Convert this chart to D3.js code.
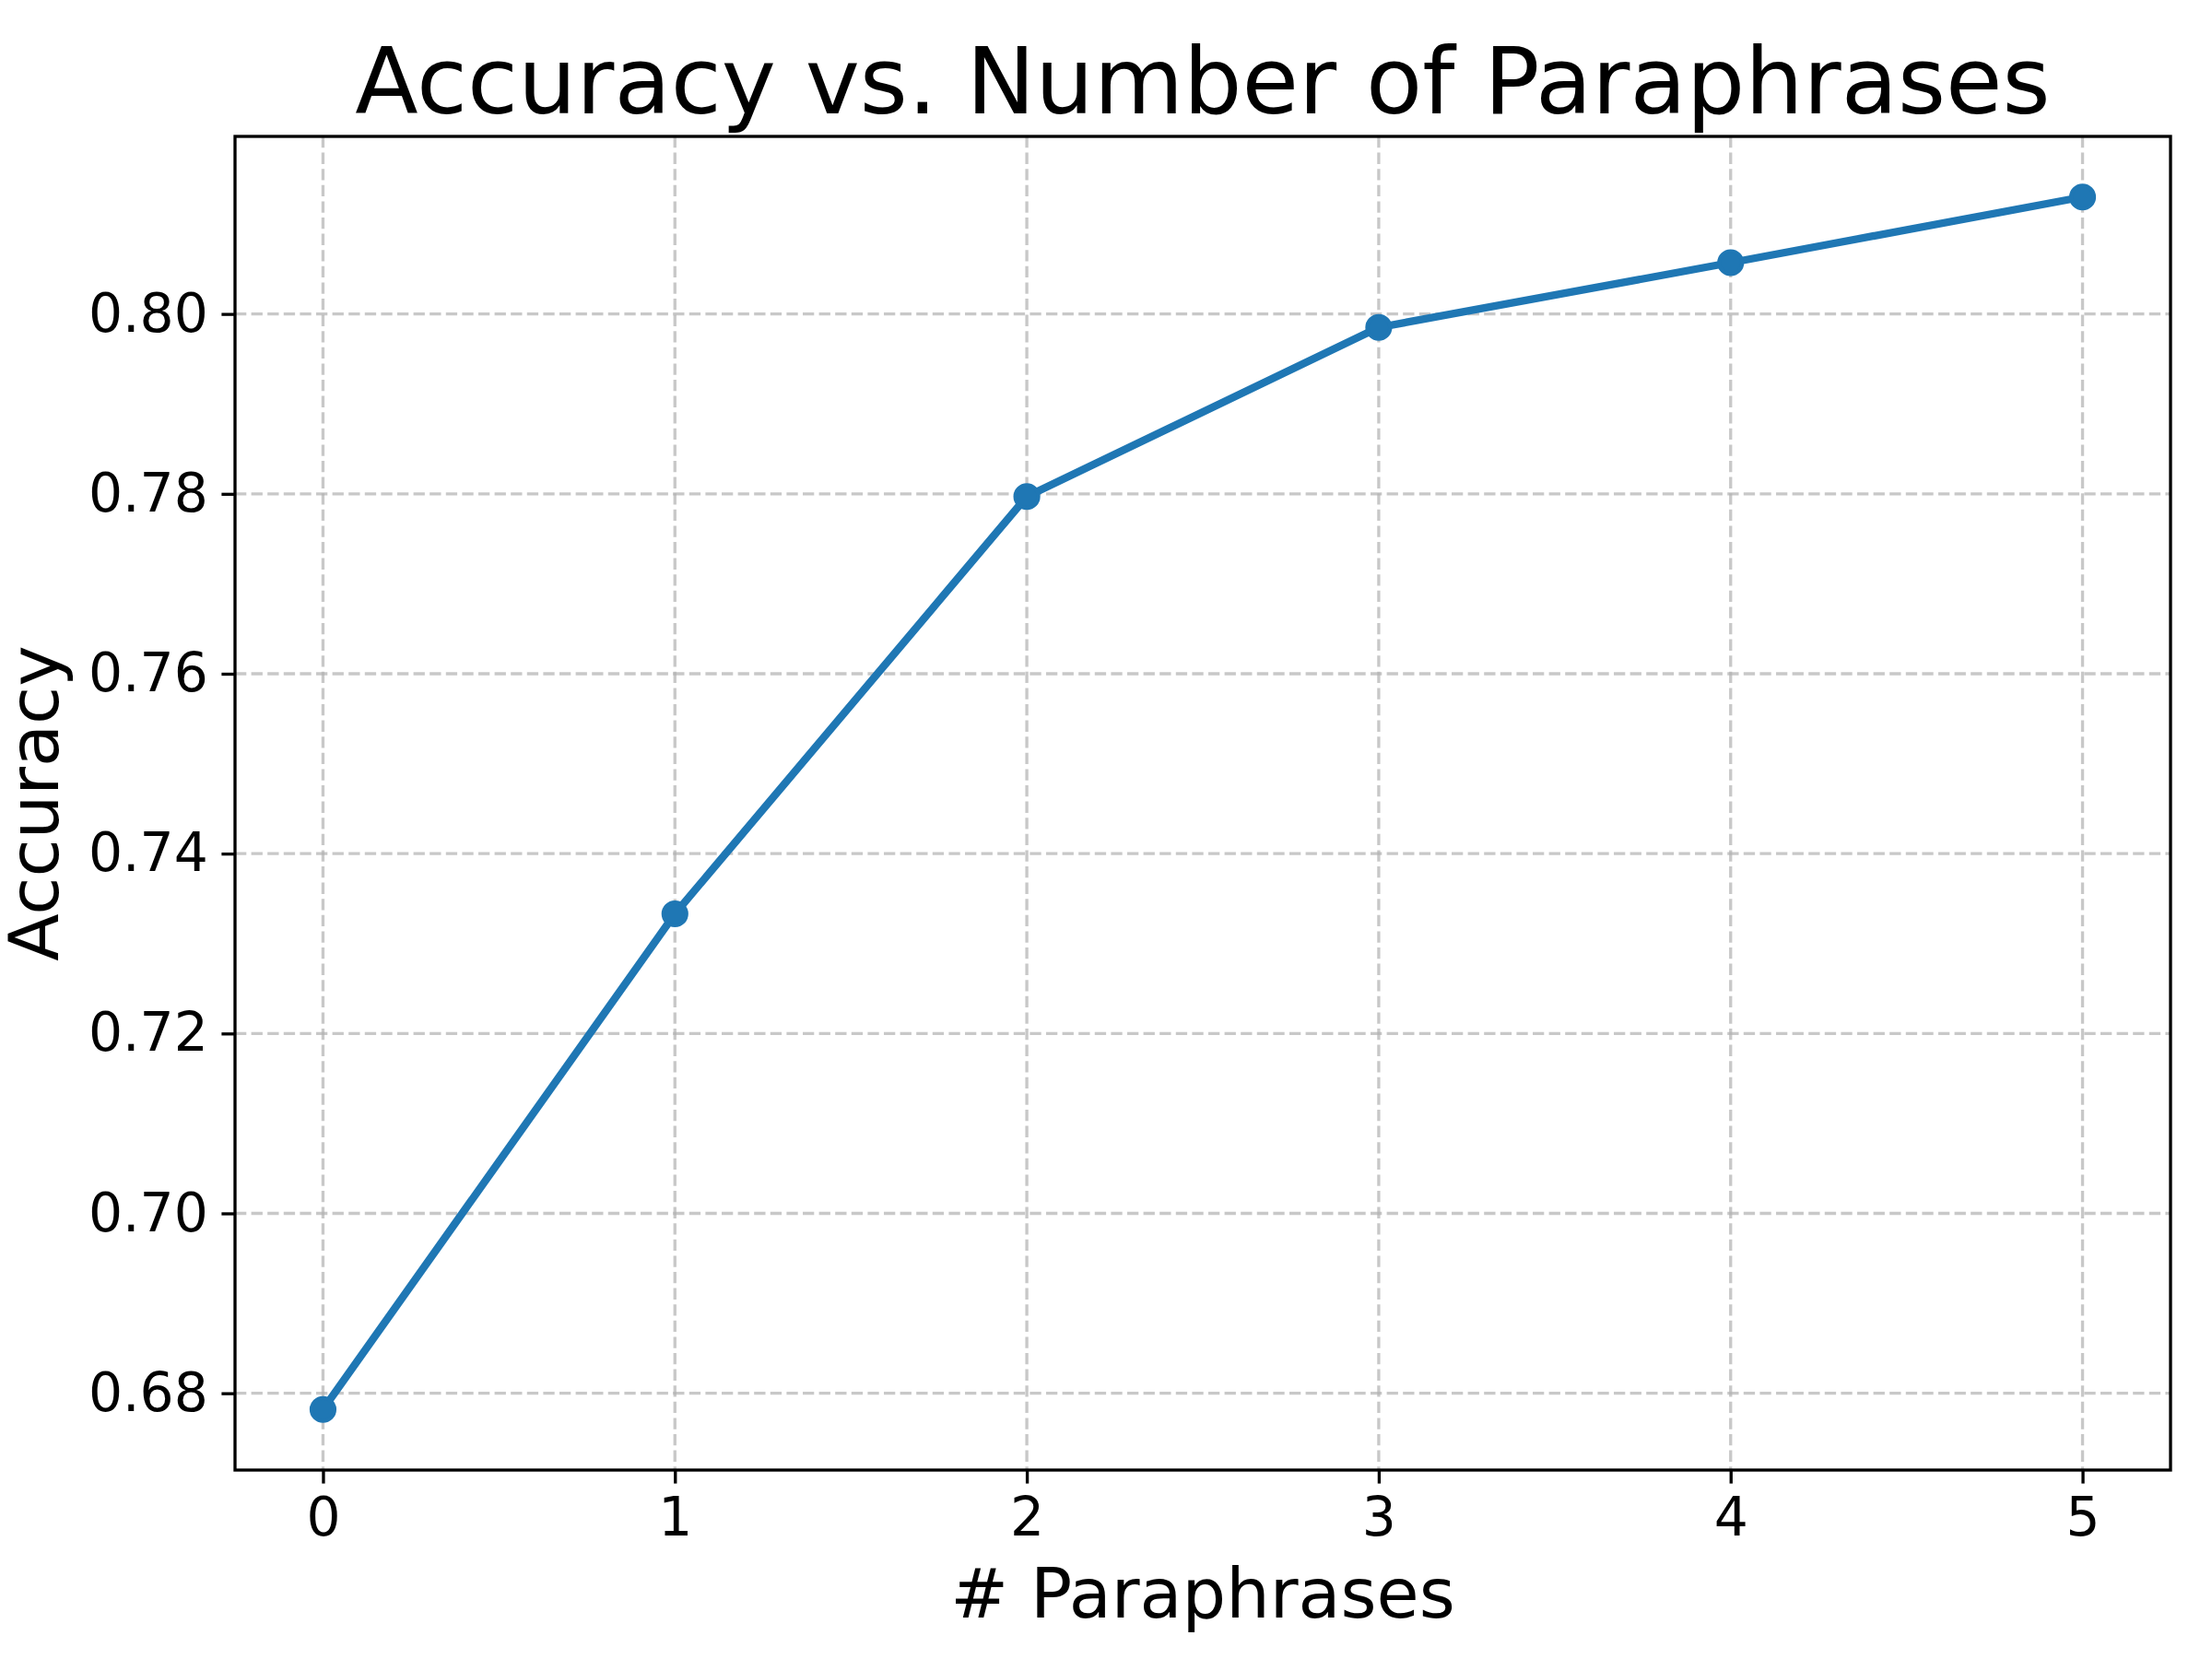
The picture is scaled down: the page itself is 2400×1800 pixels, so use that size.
<!DOCTYPE html>
<html>
<head>
<meta charset="utf-8">
<script src="https://cdn.jsdelivr.net/npm/d3@7"></script>
<style>
  html, body { margin: 0; padding: 0; background: #fff; }
  svg { display: block; font-family: "DejaVu Sans", sans-serif; }
</style>
</head>
<body>
<script>
const paraphrases = [0, 1, 2, 3, 4, 5];
const accuracy = [0.6782, 0.7333, 0.7797, 0.7985, 0.8057, 0.8130];
const xTicks = [0, 1, 2, 3, 4, 5];
const yTicks = [0.68, 0.70, 0.72, 0.74, 0.76, 0.78, 0.80];
const titleText = "Accuracy vs. Number of Paraphrases";
const xLabelText = "# Paraphrases";
const yLabelText = "Accuracy";

(function () {
const W = 2400, H = 1800;
const pL = 255, pR = 2355, pT = 148, pB = 1595;
const blue = "#1f77b4";

const svg = d3.select("body").append("svg").attr("width", W).attr("height", H);
svg.append("rect").attr("width", W).attr("height", H).attr("fill", "#fff");

const x = d3.scaleLinear().domain([-0.25, 5.25]).range([pL, pR]);
const yMin = d3.min(accuracy), yMax = d3.max(accuracy), m = (yMax - yMin) * 0.05;
const y = d3.scaleLinear().domain([yMin - m, yMax + m]).range([pB, pT]);

// grid
const grid = svg.append("g");
grid.selectAll("line.gx").data(xTicks).enter().append("line")
  .attr("x1", d => x(d)).attr("x2", d => x(d)).attr("y1", pT).attr("y2", pB)
  .attr("stroke", "#b0b0b0").attr("stroke-opacity", 0.7).attr("stroke-width", 3.33)
  .attr("stroke-dasharray", "12.3,5.3");
grid.selectAll("line.gy").data(yTicks).enter().append("line")
  .attr("x1", pL).attr("x2", pR).attr("y1", d => y(d)).attr("y2", d => y(d))
  .attr("stroke", "#b0b0b0").attr("stroke-opacity", 0.7).attr("stroke-width", 3.33)
  .attr("stroke-dasharray", "12.3,5.3");

// axes
const xAxis = d3.axisBottom(x).tickValues(xTicks).tickFormat(d3.format("d"))
  .tickSizeInner(14.6).tickSizeOuter(0).tickPadding(14.6);
const yAxis = d3.axisLeft(y).tickValues(yTicks).tickFormat(d3.format(".2f"))
  .tickSizeInner(14.6).tickSizeOuter(0).tickPadding(14.6);

const gx = svg.append("g").attr("transform", `translate(0,${pB})`).call(xAxis);
const gy = svg.append("g").attr("transform", `translate(${pL},0)`).call(yAxis);
[gx, gy].forEach(g => {
  g.select(".domain").remove();
  g.selectAll(".tick line").attr("stroke", "#000").attr("stroke-width", 3.33);
  g.selectAll(".tick text").attr("fill", "#000").attr("font-size", 58.3)
    .attr("font-family", "DejaVu Sans");
});

// line + markers
const line = d3.line().x((d, i) => x(paraphrases[i])).y(d => y(d));
svg.append("path").datum(accuracy).attr("d", line)
  .attr("fill", "none").attr("stroke", blue).attr("stroke-width", 8.33)
  .attr("stroke-linejoin", "round").attr("stroke-linecap", "square");
svg.selectAll("circle.pt").data(accuracy).enter().append("circle")
  .attr("cx", (d, i) => x(paraphrases[i])).attr("cy", d => y(d))
  .attr("r", 12.5).attr("fill", blue).attr("stroke", blue).attr("stroke-width", 4.17);

// frame
svg.append("rect").attr("x", pL).attr("y", pT)
  .attr("width", pR - pL).attr("height", pB - pT)
  .attr("fill", "none").attr("stroke", "#000").attr("stroke-width", 3.33);

// texts
svg.append("text").attr("x", (pL + pR) / 2).attr("y", 123)
  .attr("text-anchor", "middle").attr("font-size", 100).attr("fill", "#000")
  .text(titleText);
svg.append("text").attr("x", (pL + pR) / 2).attr("y", 1755)
  .attr("text-anchor", "middle").attr("font-size", 75).attr("fill", "#000")
  .text(xLabelText);
svg.append("text").attr("transform", `translate(63,${(pT + pB) / 2}) rotate(-90)`)
  .attr("text-anchor", "middle").attr("font-size", 75).attr("fill", "#000")
  .text(yLabelText);
})();
</script>
</body>
</html>
